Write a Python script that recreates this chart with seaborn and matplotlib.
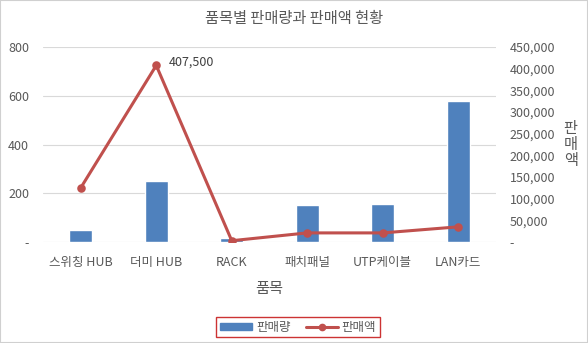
import matplotlib
matplotlib.use("Agg")
import matplotlib.pyplot as plt
import matplotlib.ticker as mticker
import seaborn as sns
import pandas as pd

# 품목별 판매 데이터
items = ["스위칭 HUB", "더미 HUB", "RACK", "패치패널", "UTP케이블", "LAN카드"]
qty = [50, 250, 15, 150, 155, 580]
sales = [125000, 407500, 3000, 21000, 21000, 35000]

sns.set_theme(style="white")
plt.rcParams["font.family"] = ["Noto Sans CJK KR", "DejaVu Sans"]

BAR = "#4f81bd"
LINE = "#c0504d"
TXT = "#595959"
GRID = "#d9d9d9"

df = pd.DataFrame({"품목": items, "판매량": qty, "판매액": sales})

fig = plt.figure(figsize=(5.88, 3.43), dpi=100)
ax = fig.add_axes([43 / 588, 1 - 242 / 343, (496 - 43) / 588, (242 - 47) / 343])

sns.barplot(data=df, x="품목", y="판매량", color=BAR, width=0.31,
            saturation=1, ax=ax, zorder=2)
ax.set_ylim(0, 800)
ax.set_yticks([0, 200, 400, 600, 800])
ax.yaxis.set_major_formatter(mticker.FuncFormatter(lambda v, p: "-" if v == 0 else f"{int(v)}"))
ax.grid(axis="y", color=GRID, linewidth=0.8, zorder=0)
ax.set_axisbelow(True)
for s in ax.spines.values():
    s.set_visible(False)
ax.tick_params(axis="both", length=0, labelsize=9, colors=TXT)
ax.tick_params(axis="y", pad=10)
ax.tick_params(axis="x", pad=10)
ax.set_ylabel("")
ax.set_xlabel("품목", fontsize=11, color=TXT, labelpad=8)

ax2 = ax.twinx()
sns.pointplot(data=df, x="품목", y="판매액", color=LINE, markers="o",
              markersize=4.5, linewidth=2.2, ax=ax2)
ax2.set_xlim(-0.5, len(items) - 0.5)
ax.set_xlim(-0.5, len(items) - 0.5)
ax2.set_ylim(0, 450000)
ax2.set_yticks(range(0, 450001, 50000))
ax2.yaxis.set_major_formatter(mticker.FuncFormatter(lambda v, p: "-" if v == 0 else f"{int(v):,}"))
for s in ax2.spines.values():
    s.set_visible(False)
ax2.tick_params(axis="y", length=0, labelsize=9, colors=TXT, pad=10)
ax2.grid(False)
ax2.set_ylabel("판\n매\n액", rotation=0, fontsize=11, color=TXT,
               linespacing=0.9, va="center", labelpad=11)

imax = sales.index(max(sales))
ax2.annotate(f"{sales[imax]:,}", (imax, sales[imax]), xytext=(9, 2),
             textcoords="offset points", fontsize=9, color="#404040",
             ha="left", va="center")

fig.suptitle("품목별 판매량과 판매액 현황", x=0.5, y=1 - 18 / 343, fontsize=11,
             color=TXT, va="center")

h1 = plt.Rectangle((0, 0), 1, 1, color=BAR)
h2 = matplotlib.lines.Line2D([], [], color=LINE, marker="o", markersize=4.5, linewidth=2.2)
leg = fig.legend([h1, h2], ["판매량", "판매액"], loc="center",
                 bbox_to_anchor=(298 / 588, 1 - 327 / 343), ncol=2, frameon=True,
                 fontsize=9, handlelength=2.6, handleheight=0.5, columnspacing=1.2,
                 handletextpad=0.3, borderpad=0.3, fancybox=False)
leg.get_frame().set_edgecolor("#c00000")
leg.get_frame().set_linewidth(1.0)
for t in leg.get_texts():
    t.set_color(TXT)

fig.patches.append(plt.Rectangle((0, 0), 1, 1, transform=fig.transFigure,
                                 fill=False, edgecolor="#d0d0d0", linewidth=1.5))

fig.savefig("out.png", dpi=100)
